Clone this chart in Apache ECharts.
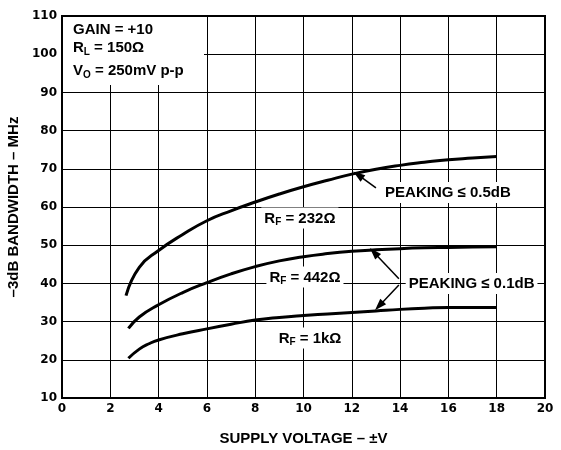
<!DOCTYPE html>
<html>
<head>
<meta charset="utf-8">
<script src="https://cdn.jsdelivr.net/npm/echarts@6/dist/echarts.min.js"></script>
<style>
  html, body { margin: 0; padding: 0; background: #fff; }
  #chart { width: 561px; height: 450px; }
</style>
</head>
<body>
<div id="chart"></div>
<script>
// supply voltage (x) and -3dB bandwidth (y)
let x232 = [2.65, 3.2, 4, 5, 6, 7, 8, 9, 10, 11, 12, 13, 14, 15, 16, 17, 18];
let y232 = [36.8, 44.2, 48.6, 52.8, 56.4, 59, 61.3, 63.4, 65.3, 67, 68.6, 69.9, 70.9, 71.7, 72.4, 72.8, 73.2];
let x442 = [2.75, 3.2, 4, 5, 6, 7, 8, 9, 10, 11, 12, 13, 14, 15, 16, 17, 18];
let y442 = [28.2, 31.2, 34.4, 37.6, 40.2, 42.5, 44.4, 45.9, 47, 47.8, 48.4, 48.8, 49.1, 49.3, 49.4, 49.5, 49.6];
let x1k = [2.75, 3.2, 3.6, 4, 5, 6, 7, 8, 9, 10, 11, 12, 13, 14, 15, 16, 17, 18];
let y1k = [20.4, 22.8, 24.2, 25.2, 26.8, 28.1, 29.3, 30.4, 31.1, 31.6, 32, 32.4, 32.8, 33.2, 33.5, 33.7, 33.7, 33.7];

// annotation anchors (data coords)
let labelRF = [
  {text: '{b|R}{s|F}{b| = 232Ω}', coord: [9.85, 57.1]},
  {text: '{b|R}{s|F}{b| = 442Ω}', coord: [10.06, 41.7]},
  {text: '{b|R}{s|F}{b| = 1kΩ}', coord: [10.27, 25.7]},
  {text: '{b|PEAKING ≤ 0.5dB}', coord: [15.98, 63.8]},
  {text: '{b|PEAKING ≤ 0.1dB}', coord: [16.96, 40.0]}
];
let arrows = [
  [[13.0, 65.0], [12.26, 68.4]],
  [[13.95, 41.2], [12.92, 48.1]],
  [[13.95, 39.6], [13.13, 34.1]]
];
let boxLines = [
  '{b|GAIN = +10}',
  '{b|R}{s|L}{b| = 150Ω}',
  '{b|V}{s|O}{b| = 250mV p-p}'
];

function pairs(xs, ys){
  let out = [];
  for(let i=0;i<xs.length;i++){
    out.push([xs[i], ys[i]]);
  }
  return out;
}

let font = 'Liberation Sans';
let tickFont = 'DejaVu Sans';
let rich = {
  b: {fontFamily: font, fontWeight: 'bold', fontSize: 15, color: '#000', lineHeight: 18},
  s: {fontFamily: font, fontWeight: 'bold', fontSize: 10, color: '#000', lineHeight: 18, verticalAlign: 'bottom', padding: [6, 0, 0, 0]}
};

function curve(xs, ys){
  return {
    type: 'line',
    data: pairs(xs, ys),
    smooth: true,
    showSymbol: false,
    lineStyle: {color: '#000', width: 3},
    z: 5
  };
}

let chart = echarts.init(document.getElementById('chart'));

let boxRich = {
  b: {fontFamily: font, fontWeight: 'bold', fontSize: 15, fill: '#000', lineHeight: 18},
  s: {fontFamily: font, fontWeight: 'bold', fontSize: 10, fill: '#000', lineHeight: 18, verticalAlign: 'bottom', padding: [6, 0, 0, 0]}
};
let boxY = [30, 48, 71];
let graphics = [{
  type: 'rect', left: 63, top: 17, z: 10,
  shape: {width: 141, height: 68},
  style: {fill: '#fff'}
}];
for(let i=0;i<boxLines.length;i++){
  graphics.push({
    type: 'text', x: 73, y: boxY[i], z: 11,
    style: {text: boxLines[i], rich: boxRich, verticalAlign: 'middle', align: 'left'}
  });
}

let opt = {
  animation: false,
  backgroundColor: '#fff',
  grid: {
    left: 62, right: 16, top: 16, bottom: 52,
    outerBoundsMode: 'none', containLabel: false,
    show: true, borderColor: '#000', borderWidth: 2
  },
  xAxis: {
    type: 'value', min: 0, max: 20, interval: 2,
    name: 'SUPPLY VOLTAGE – ±V', nameLocation: 'middle', nameGap: 33,
    nameTextStyle: {fontFamily: font, fontWeight: 'bold', fontSize: 15, color: '#000'},
    axisLine: {lineStyle: {color: '#000', width: 2}},
    axisTick: {show: false},
    axisLabel: {fontFamily: tickFont, fontWeight: 'bold', fontSize: 12, color: '#000', margin: 5},
    splitLine: {lineStyle: {color: '#000', width: 1}}
  },
  yAxis: {
    type: 'value', min: 10, max: 110, interval: 10,
    name: '–3dB BANDWIDTH – MHz', nameLocation: 'middle', nameGap: 38,
    nameTextStyle: {fontFamily: font, fontWeight: 'bold', fontSize: 15, color: '#000'},
    axisLine: {lineStyle: {color: '#000', width: 2}},
    axisTick: {show: false},
    axisLabel: {fontFamily: tickFont, fontWeight: 'bold', fontSize: 12, color: '#000', margin: 5},
    splitLine: {lineStyle: {color: '#000', width: 1}}
  },
  series: [
    curve(x232, y232),
    curve(x442, y442),
    curve(x1k, y1k),
    {
      type: 'line',
      data: [],
      z: 6,
      markPoint: {
        symbol: 'rect',
        symbolSize: 1,
        itemStyle: {color: 'rgba(0,0,0,0)'},
        label: {
          show: true, position: 'inside', rich: rich,
          backgroundColor: '#fff', padding: [2, 3, 1, 3],
          formatter: function(p){ return p.name; }
        },
        data: labelRF.map(function(l){ return {name: l.text, coord: l.coord}; })
      },
      markLine: {
        silent: true,
        symbol: ['none', 'triangle'],
        symbolSize: [8, 12],
        lineStyle: {color: '#000', width: 1.5, type: 'solid'},
        label: {show: false},
        data: arrows.map(function(a){ return [{coord: a[0]}, {coord: a[1]}]; })
      }
    }
  ],
  graphic: graphics
};
chart.setOption(opt);
</script>
</body>
</html>
